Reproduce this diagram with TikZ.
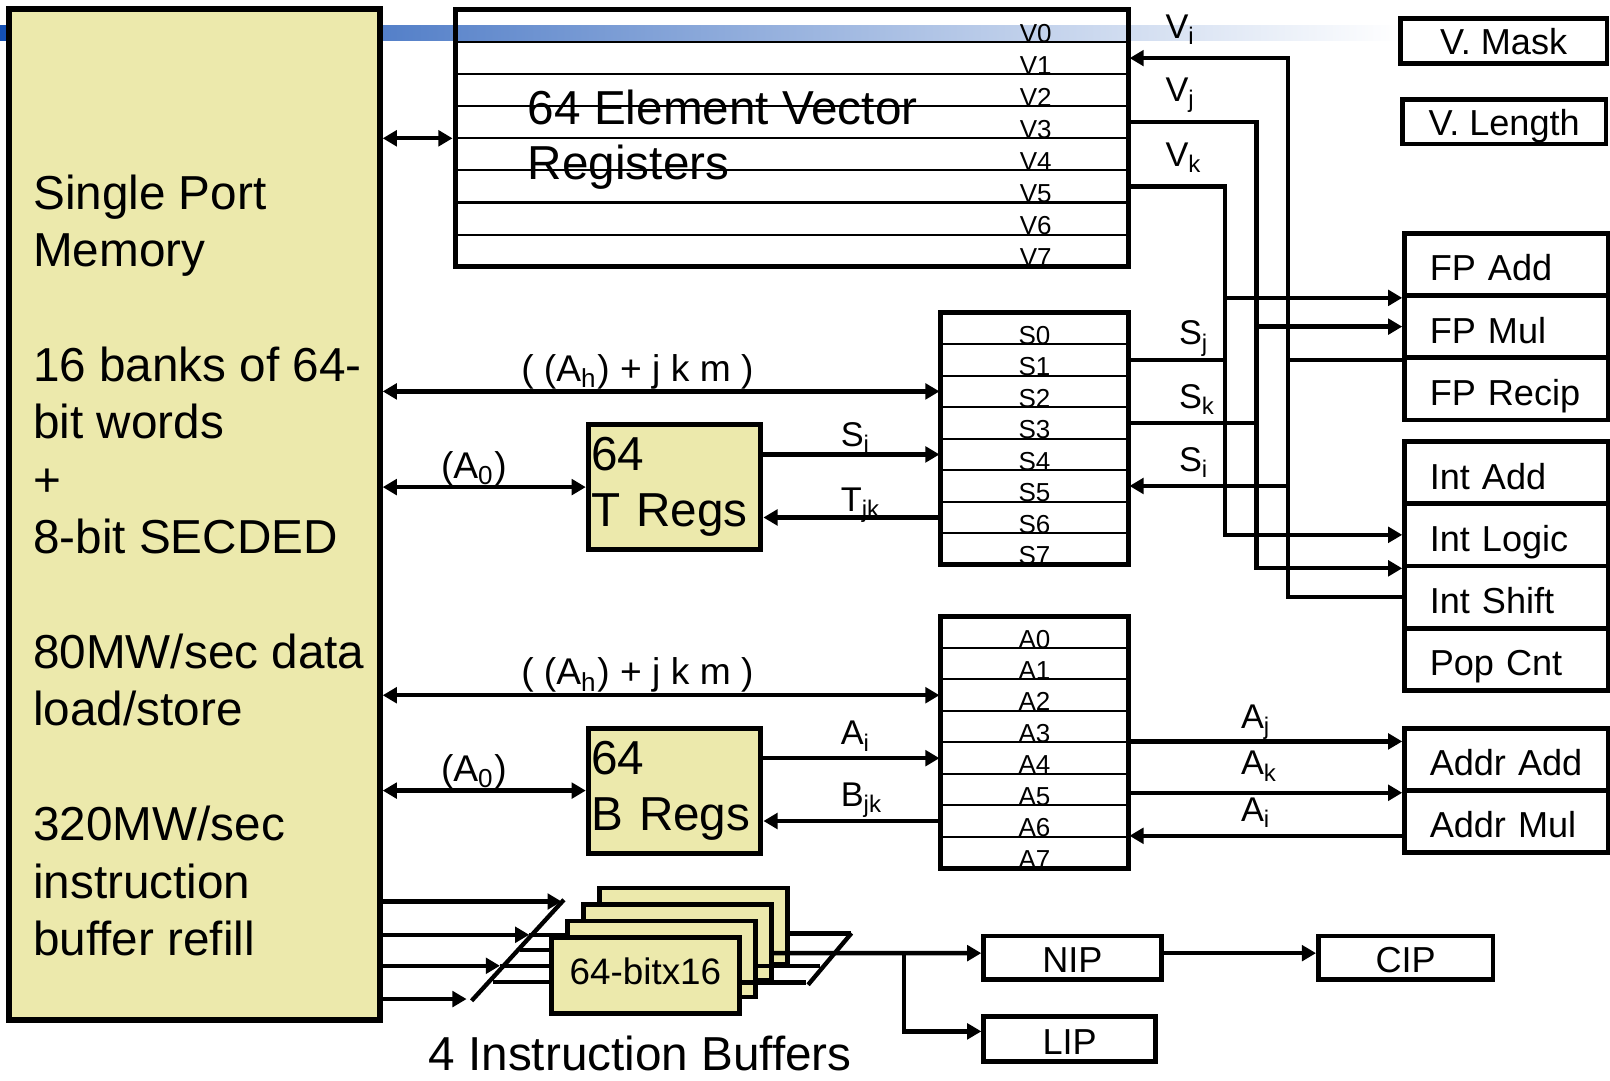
\documentclass[tikz,border=0pt]{standalone}
\usepackage{fontspec}
\setmainfont{Liberation Sans}
\usetikzlibrary{arrows.meta}

\definecolor{crayyellow}{RGB}{236,233,172}
\definecolor{bandblue}{RGB}{20,80,180}

\tikzset{
  >={Triangle[length=3.9pt,width=4.3pt]},
  conn/.style={line width=1.2pt},
  membox/.style={draw, fill=crayyellow, line width=1.5pt, inner sep=0pt},
  regbox/.style={draw, line width=1.4pt, inner sep=0pt},
  vrow/.style={draw, line width=0.55pt, font=\fontsize{7.2}{8}\selectfont,
    text width=5.056cm, align=right, inner xsep=0.75cm, inner ysep=0pt,
    text height=0.3125cm, text depth=0pt},
  srow/.style={draw, line width=0.55pt, font=\fontsize{7.2}{8}\selectfont,
    minimum width=1.83cm, inner sep=0pt, text height=0.3071cm, text depth=0pt},
  arow/.style={srow, text height=0.3063cm},
  regsbox/.style={draw, fill=crayyellow, line width=1.4pt,
    font=\fontsize{13.2}{15.6}\selectfont, text width=1.62cm, align=left,
    inner xsep=0.03cm, inner ysep=0pt, minimum height=1.21cm},
  fubox/.style={draw, line width=1.3pt, font=\fontsize{10}{12}\selectfont,
    text width=1.49cm, align=left, inner xsep=0.245cm, inner ysep=0pt,
    text height=9.1pt, text depth=0pt, minimum height=0.606cm},
  ctlbox/.style={draw, line width=1.3pt, font=\fontsize{10}{12}\selectfont,
    inner sep=0pt, text height=8.3pt, text depth=0pt},
  bufbox/.style={draw, fill=crayyellow, line width=1.2pt,
    minimum width=1.83cm, minimum height=0.74cm, inner sep=0pt,
    font=\fontsize{10.2}{12}\selectfont, text height=5.1pt, text depth=0pt},
  lbl/.style={font=\fontsize{9.5}{11}\selectfont, anchor=base west, inner sep=0pt},
  buslbl/.style={font=\fontsize{10.3}{12}\selectfont, anchor=base west, inner sep=0pt},
  bigtxt/.style={font=\fontsize{13.2}{15.9}\selectfont, align=left,
    anchor=base west, inner sep=0pt}
}

\begin{document}
\begin{tikzpicture}[x=0.01cm, y=-0.01cm]
  \useasboundingbox (0,0) rectangle (1568,1052);
  \shade[left color=bandblue, right color=white] (0,25.3) rectangle (1364,39.6);

  % memory (base of a multi-line node = its last line)
  \node[membox, minimum width=3.61cm, minimum height=9.841cm] (mem) at (189.5,501.15) {};
  \node[bigtxt] (memtxt) at (31.7,930.5) {Single Port\\Memory\\[15.9pt]16 banks of 64-\\bit words\\+\\8-bit SECDED\\[15.9pt]80MW/sec data\\load/store\\[15.9pt]320MW/sec\\instruction\\buffer refill};

  % vector registers
  \begin{scope}[every node/.style=vrow]
    \path
      (771.2,25.3) node (v0){V0}
      (771.2,56.6) node (v1){V1}
      (771.2,87.8) node (v2){V2}
      (771.2,119.1) node (v3){V3}
      (771.2,150.3) node (v4){V4}
      (771.2,181.6) node (v5){V5}
      (771.2,212.8) node (v6){V6}
      (771.2,244.1) node (v7){V7};
  \end{scope}
  \node[regbox, minimum width=6.556cm, minimum height=2.5cm] (vreg) at (771.2,134.7) {};
  \node[bigtxt, font=\fontsize{13.2}{15.5}\selectfont] (vtxt) at (513.5,175.3) {64 Element Vector\\Registers};

  % scalar registers
  \begin{scope}[every node/.style=srow]
    \path
      (1007.5,319.8) node (s0){S0}
      (1007.5,350.5) node (s1){S1}
      (1007.5,381.2) node (s2){S2}
      (1007.5,411.9) node (s3){S3}
      (1007.5,442.6) node (s4){S4}
      (1007.5,473.3) node (s5){S5}
      (1007.5,504.0) node (s6){S6}
      (1007.5,534.7) node (s7){S7};
  \end{scope}
  \node[regbox, minimum width=1.83cm, minimum height=2.457cm] (sreg) at (1007.5,427.25) {};

  % address registers
  \begin{scope}[every node/.style=arow]
    \path
      (1007.5,615.8) node (a0){A0}
      (1007.5,646.4) node (a1){A1}
      (1007.5,677.1) node (a2){A2}
      (1007.5,707.7) node (a3){A3}
      (1007.5,738.4) node (a4){A4}
      (1007.5,769.0) node (a5){A5}
      (1007.5,799.6) node (a6){A6}
      (1007.5,830.3) node (a7){A7};
  \end{scope}
  \node[regbox, minimum width=1.83cm, minimum height=2.45cm] (areg) at (1007.5,723.0) {};

  % T and B registers
  \node[regsbox] (treg) at (657,474.4) {64\\T Regs};
  \node[regsbox, minimum height=1.217cm] (breg) at (657,770) {64\\B Regs};

  % functional units
  \node[ctlbox, text height=7.85pt, minimum width=2.013cm, minimum height=0.439cm] (vmask) at (1464.4,39.75) {V. Mask};
  \node[ctlbox, text height=7.85pt, minimum width=1.982cm, minimum height=0.435cm] (vlength) at (1464.9,118.45) {V. Length};
  \node[fubox] (fpadd) at (1467,257.5) {FP Add};
  \node[fubox] (fpmul) at (1467,318.1) {FP Mul};
  \node[fubox] (fprecip) at (1467,378.7) {FP Recip};
  \node[fubox] (intadd) at (1467,460.3) {Int Add};
  \node[fubox] (intlogic) at (1467,520.9) {Int Logic};
  \node[fubox] (intshift) at (1467,581.5) {Int Shift};
  \node[fubox] (popcnt) at (1467,642.1) {Pop Cnt};
  \node[fubox] (addradd) at (1467,739.5) {Addr Add};
  \node[fubox] (addrmul) at (1467,800.1) {Addr Mul};

  % instruction buffers
  \node[bufbox] (buf4) at (675.4,902) {};
  \node[bufbox] (buf3) at (659.8,918) {};
  \node[bufbox] (buf2) at (644.2,934) {};
  \node[bufbox] (buf1) at (628.6,950) {64-bitx16};
  \node[font=\fontsize{13.2}{15.9}\selectfont, anchor=base, inner sep=0pt] (ibtxt) at (623.5,1042.5) {4 Instruction Buffers};

  \node[ctlbox, minimum width=1.73cm, minimum height=0.425cm] (nip) at (1044.5,932.8) {NIP};
  \node[ctlbox, minimum width=1.70cm, minimum height=0.425cm] (cip) at (1369,932.8) {CIP};
  \node[ctlbox, minimum width=1.675cm, minimum height=0.44cm] (lip) at (1041.8,1012) {LIP};

  % bus positions
  \coordinate (kbus) at (1192.8,0);
  \coordinate (jbus) at (1223.6,0);
  \coordinate (ibus) at (1254.5,0);

  % vector side
  \draw[conn,<->] (mem.east |- vreg) -- (vreg.west);
  \draw[conn,<-] (v1.east) -| (ibus |- intshift) -- (intshift.west);
  \draw[conn,->] (v3.east) -| (jbus |- intlogic.south) -- (intlogic.south west);
  \draw[conn,->] (v5.east) -| (kbus |- intlogic) -- (intlogic.west);
  \draw[conn,->] (kbus |- fpadd.south) -- (fpadd.south west);
  \draw[conn,->] (jbus |- fpmul) -- (fpmul.west);
  \draw[conn] (ibus |- fpmul.south) -- (fpmul.south west);
  \draw[conn] (s1.east) -- (kbus |- s1);
  \draw[conn] (s3.east) -- (jbus |- s3);
  \draw[conn,->] (ibus |- s5) -- (s5.east);

  % scalar side
  \draw[conn,<->] (mem.east |- s2) -- (s2.west);
  \draw[conn,<->] (mem.east |- treg) -- (treg.west);
  \draw[conn,->] (treg.east |- s4) -- (s4.west);
  \draw[conn,->] (s6.west) -- (treg.east |- s6);

  % address side
  \draw[conn,<->] (mem.east |- a2) -- (a2.west);
  \draw[conn,<->] (mem.east |- breg) -- (breg.west);
  \draw[conn,->] (breg.east |- a4) -- (a4.west);
  \draw[conn,->] (a6.west) -- (breg.east |- a6);
  \draw[conn,->] (a4.north east) -- (a4.north east -| addradd.west);
  \draw[conn,->] (areg.east |- addradd.south) -- (addradd.south west);
  \draw[conn,->] (addrmul.west |- a7.north) -- (a7.north east);

  % instruction fetch
  \coordinate (in1) at (547,878);
  \coordinate (in2) at (515.4,910.4);
  \coordinate (in3) at (486.9,940.6);
  \coordinate (in4) at (454.4,973);
  \coordinate (fan1) at (506,925);
  \coordinate (fan2) at (480,956.5);
  \draw[conn,->] (mem.east |- in1) -- (in1);
  \draw[conn,->] (mem.east |- in2) -- (in2);
  \draw[conn,->] (mem.east |- in3) -- (in3);
  \draw[conn,->] (mem.east |- in4) -- (in4);
  \draw[conn] (in2) -- (in2 -| buf2.west);
  \draw[conn] (in3) -- (in3 -| buf1.west);
  \draw[conn] (fan1) -- (fan1 -| buf1.west);
  \draw[conn] (fan2) -- (fan2 -| buf1.west);
  \draw[conn] (459.3,974.7) -- (549.2,876.3);

  \draw[conn] ([yshift=-0.07cm]buf4.east) -- ++(0.6cm,0);
  \draw[conn] ([yshift=-0.07cm]buf2.east) -- ++(0.61cm,0);
  \draw[conn] ([yshift=-0.07cm]buf1.east) -- ++(0.63cm,0);
  \draw[conn] (787,959.1) -- (829.3,908.8);
  \coordinate (split) at (880.7,928.3);
  \draw[conn,->] ([yshift=-0.103cm]buf3.east) -- ([yshift=0.045cm]nip.west);
  \draw[conn,->] (split) |- ([yshift=0.075cm]lip.west);
  \draw[conn,->] ([yshift=0.045cm]nip.east) -- ([yshift=0.045cm]cip.west);

  % labels
  \node[lbl] (lvi) at (1134.4,37.3) {V\textsubscript{i}};
  \node[lbl] (lvj) at (1134.4,99) {V\textsubscript{j}};
  \node[lbl] (lvk) at (1134.4,162.3) {V\textsubscript{k}};
  \node[lbl] (lsj) at (1147.6,336) {S\textsubscript{j}};
  \node[lbl] (lsk) at (1147.6,397.6) {S\textsubscript{k}};
  \node[lbl] (lsi) at (1147.6,459.3) {S\textsubscript{i}};
  \node[lbl] (lti) at (818.2,435) {S\textsubscript{i}};
  \node[lbl] (ltjk) at (818.2,498) {T\textsubscript{jk}};
  \node[lbl] (lbi) at (818.2,725.4) {A\textsubscript{i}};
  \node[lbl] (lbjk) at (818.2,785.5) {B\textsubscript{jk}};
  \node[lbl] (laj) at (1208,709.2) {A\textsubscript{j}};
  \node[lbl] (lak) at (1208,754.6) {A\textsubscript{k}};
  \node[lbl] (lai) at (1208,800.1) {A\textsubscript{i}};
  \node[buslbl] (lsah) at (507,371.6) {( (A\textsubscript{h}) + j k m )};
  \node[buslbl] (laah) at (507,667) {( (A\textsubscript{h}) + j k m )};
  \node[buslbl] (lsa0) at (428.8,465.8) {(A\textsubscript{0})};
  \node[buslbl] (laa0) at (428.8,761) {(A\textsubscript{0})};
\end{tikzpicture}
\end{document}
